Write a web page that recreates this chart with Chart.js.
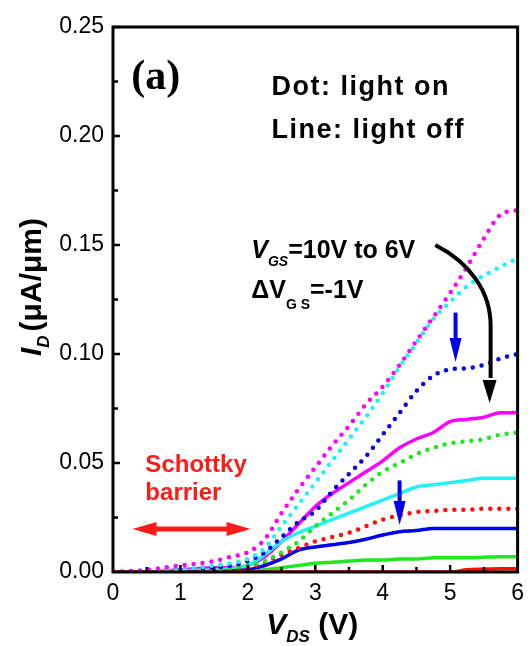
<!DOCTYPE html>
<html>
<head>
<meta charset="utf-8">
<script src="https://cdn.jsdelivr.net/npm/chart.js@4.4.0/dist/chart.umd.min.js"></script>
<style>
  body { margin: 0; background: #fff; }
  #wrap { width: 532px; height: 646px; position: relative; }
</style>
</head>
<body>
<div id="wrap"><canvas id="ivChart"></canvas></div>
<script>
// V_DS sweep (V)
const vds = [0, 0.5, 1, 1.5, 1.75, 2, 2.25, 2.5, 2.75, 3, 3.25, 3.5, 3.75, 4, 4.25, 4.5, 4.75, 5, 5.25, 5.5, 5.75, 6];

// light on (dotted), V_GS = 10V .. 6V
const onMagenta = [0, 0.001, 0.003, 0.005, 0.007, 0.009, 0.015, 0.027, 0.038, 0.048, 0.058, 0.067, 0.077, 0.085, 0.095, 0.106, 0.117, 0.128, 0.140, 0.153, 0.164, 0.166];
const onCyan    = [0, 0.0005, 0.001, 0.003, 0.004, 0.006, 0.011, 0.021, 0.031, 0.041, 0.051, 0.061, 0.071, 0.082, 0.094, 0.105, 0.116, 0.124, 0.131, 0.136, 0.140, 0.144];
const onBlue    = [0, 0.0005, 0.001, 0.002, 0.003, 0.005, 0.009, 0.016, 0.023, 0.028, 0.037, 0.045, 0.053, 0.063, 0.073, 0.083, 0.090, 0.093, 0.0935, 0.095, 0.098, 0.100];
const onGreen   = [0, 0, 0.0005, 0.001, 0.002, 0.003, 0.005, 0.009, 0.014, 0.021, 0.027, 0.033, 0.040, 0.046, 0.050, 0.054, 0.057, 0.059, 0.060, 0.061, 0.063, 0.064];
const onRed     = [0, 0, 0, 0.0005, 0.001, 0.002, 0.0045, 0.008, 0.011, 0.014, 0.016, 0.018, 0.021, 0.024, 0.026, 0.0275, 0.028, 0.0285, 0.0285, 0.029, 0.029, 0.029];

// light off (solid)
const offMagenta = [0, 0, 0.001, 0.002, 0.002, 0.003, 0.007, 0.014, 0.022, 0.030, 0.036, 0.041, 0.046, 0.051, 0.057, 0.061, 0.064, 0.069, 0.070, 0.071, 0.073, 0.073];
const offCyan    = [0, 0, 0.0005, 0.001, 0.0015, 0.003, 0.008, 0.014, 0.018, 0.021, 0.024, 0.027, 0.030, 0.033, 0.036, 0.039, 0.040, 0.041, 0.042, 0.043, 0.043, 0.043];
const offBlue    = [0, 0, 0, 0, 0.0005, 0.001, 0.003, 0.006, 0.010, 0.0115, 0.0125, 0.0135, 0.015, 0.017, 0.0185, 0.019, 0.020, 0.020, 0.020, 0.020, 0.020, 0.020];
const offGreen   = [0, 0, 0, 0, 0, 0, 0.001, 0.002, 0.003, 0.004, 0.0045, 0.005, 0.0055, 0.0055, 0.006, 0.006, 0.0065, 0.0065, 0.0065, 0.0068, 0.007, 0.007];
const offRed     = [0, 0, 0, 0, 0, 0, 0, 0, 0, 0, 0, 0, 0, 0, 0, 0, 0, 0, 0.001, 0.0013, 0.0015, 0.0015];

const xTicks = [0, 1, 2, 3, 4, 5, 6];
const yTicks = [0, 0.05, 0.10, 0.15, 0.20, 0.25];

const colors = { magenta: '#ff00ff', cyan: '#22f2f2', blue: '#0000ee', green: '#1ee81e', red: '#ff0d0d' };
const SANS = '"Liberation Sans", Arial, sans-serif';

const pts = arr => vds.map((v, i) => ({ x: v, y: arr[i] }));

function dotted(arr, c) {
    return {
        data: pts(arr), borderColor: c, backgroundColor: c,
        borderWidth: 4.5, borderDash: [0, 9], borderCapStyle: 'round',
        pointRadius: 0, cubicInterpolationMode: 'monotone'
    };
}
function solid(arr, c) {
    return {
        data: pts(arr), borderColor: c, backgroundColor: c,
        borderWidth: 3.5, pointRadius: 0, cubicInterpolationMode: 'monotone'
    };
}

// mixed-font text: runs of {t, f, dy}
function runs(ctx, x, y, list) {
    let cx = x;
    list.forEach(r => {
        ctx.font = r.f;
        ctx.fillText(r.t, cx, y + (r.dy || 0));
        cx += ctx.measureText(r.t).width + (r.gap || 0);
    });
    return cx - x;
}
function runsWidth(ctx, list) {
    let w = 0;
    list.forEach(r => { ctx.font = r.f; w += ctx.measureText(r.t).width + (r.gap || 0); });
    return w;
}

function arrowHead(ctx, tx, ty, ang, len, half) {
    ctx.beginPath();
    ctx.moveTo(tx, ty);
    ctx.lineTo(tx - len * Math.cos(ang) + half * Math.sin(ang), ty - len * Math.sin(ang) - half * Math.cos(ang));
    ctx.lineTo(tx - len * Math.cos(ang) - half * Math.sin(ang), ty - len * Math.sin(ang) + half * Math.cos(ang));
    ctx.closePath();
    ctx.fill();
}

const decorPlugin = {
    id: 'decor',
    afterDraw(chart) {
        const { ctx, chartArea: a, scales: { x, y } } = chart;
        const X = v => x.getPixelForValue(v), Y = v => y.getPixelForValue(v);
        ctx.save();

        // inward ticks
        ctx.strokeStyle = '#000';
        ctx.lineWidth = 2.5;
        for (let v = 0.025; v < 0.25; v += 0.025) {
            const major = Math.abs(v / 0.05 - Math.round(v / 0.05)) < 1e-6;
            ctx.beginPath(); ctx.moveTo(a.left, Y(v)); ctx.lineTo(a.left + (major ? 7 : 5), Y(v)); ctx.stroke();
        }
        for (let v = 0.5; v < 6; v += 0.5) {
            const major = Math.abs(v - Math.round(v)) < 1e-6;
            ctx.beginPath(); ctx.moveTo(X(v), a.bottom); ctx.lineTo(X(v), a.bottom - (major ? 7 : 5)); ctx.stroke();
        }
        // frame
        ctx.lineWidth = 3;
        ctx.strokeRect(a.left, a.top, a.right - a.left, a.bottom - a.top);

        ctx.fillStyle = '#000';
        ctx.textBaseline = 'alphabetic';
        ctx.textAlign = 'left';

        // axis titles
        const xt = [
            { t: 'V', f: 'italic bold 30px ' + SANS },
            { t: 'DS', f: 'italic bold 17px ' + SANS, dy: 8 },
            { t: ' (V)', f: 'bold 30px ' + SANS }
        ];
        const xw = runsWidth(ctx, xt);
        runs(ctx, (a.left + a.right) / 2 - xw / 2 - 3, 634, xt);

        const yt = [
            { t: 'I', f: 'italic bold 30px ' + SANS },
            { t: 'D', f: 'italic bold 17px ' + SANS, dy: 8, gap: 4 },
            { t: '(\u03bcA/\u03bcm)', f: 'bold 30px ' + SANS }
        ];
        const yw = runsWidth(ctx, yt);
        ctx.save();
        ctx.translate(41, 287);
        ctx.rotate(-Math.PI / 2);
        runs(ctx, -yw / 2, 0, yt);
        ctx.restore();

        // panel label and notes
        ctx.font = 'bold 42px "Liberation Serif", "Times New Roman", serif';
        ctx.fillText('(a)', X(0.27), Y(0.2215));
        ctx.letterSpacing = '1.5px';
        ctx.font = 'bold 27px ' + SANS;
        ctx.fillText('Dot: light on', X(2.35), Y(0.219));
        ctx.fillText('Line: light off', X(2.35), Y(0.199));
        ctx.letterSpacing = '0px';

        runs(ctx, X(2.05), Y(0.144), [
            { t: 'V', f: 'italic bold 25px ' + SANS },
            { t: 'GS', f: 'italic bold 14px ' + SANS, dy: 8 },
            { t: '=10V to 6V', f: 'bold 25px ' + SANS }
        ]);
        runs(ctx, X(2.05), Y(0.1255), [
            { t: '\u0394V', f: 'bold 25px ' + SANS },
            { t: 'G S', f: 'bold 14px ' + SANS, dy: 11 },
            { t: '=-1V', f: 'bold 25px ' + SANS }
        ]);

        // curved black arrow
        ctx.strokeStyle = '#000';
        ctx.lineWidth = 4;
        ctx.beginPath();
        ctx.moveTo(X(4.78), Y(0.150));
        ctx.bezierCurveTo(X(5.28), Y(0.142), X(5.60), Y(0.129), X(5.60), Y(0.113));
        ctx.lineTo(X(5.60), Y(0.089));
        ctx.stroke();
        arrowHead(ctx, X(5.585), Y(0.0775), Math.PI / 2, 23, 7);

        // blue arrows
        ctx.strokeStyle = ctx.fillStyle = '#0000ee';
        ctx.lineWidth = 4;
        [[5.08, 0.119, 0.0963], [4.25, 0.042, 0.0216]].forEach(([vx, y1, y2]) => {
            ctx.beginPath(); ctx.moveTo(X(vx), Y(y1)); ctx.lineTo(X(vx), Y(y2) - 18); ctx.stroke();
            arrowHead(ctx, X(vx), Y(y2), Math.PI / 2, 24, 6);
        });

        // Schottky barrier
        ctx.fillStyle = ctx.strokeStyle = '#ff1a1a';
        ctx.font = 'bold 24px ' + SANS;
        ctx.fillText('Schottky', X(0.48), Y(0.0459));
        ctx.fillText('barrier', X(0.48), Y(0.033));
        const ry = Y(0.0197);
        ctx.lineWidth = 5;
        ctx.beginPath(); ctx.moveTo(X(0.29) + 15, ry); ctx.lineTo(X(2.04) - 15, ry); ctx.stroke();
        arrowHead(ctx, X(0.29), ry, Math.PI, 24, 7);
        arrowHead(ctx, X(2.04), ry, 0, 24, 7);

        ctx.restore();
    }
};

new Chart(document.getElementById('ivChart'), {
    type: 'line',
    data: {
        datasets: [
            dotted(onMagenta, colors.magenta),
            dotted(onCyan, colors.cyan),
            dotted(onBlue, colors.blue),
            dotted(onGreen, colors.green),
            dotted(onRed, colors.red),
            solid(offRed, colors.red),
            solid(offGreen, colors.green),
            solid(offBlue, colors.blue),
            solid(offCyan, colors.cyan),
            solid(offMagenta, colors.magenta)
        ]
    },
    options: {
        responsive: true,
        maintainAspectRatio: false,
        animation: false,
        events: [],
        layout: { padding: { top: 27, right: 7, left: 0, bottom: 0 } },
        plugins: { legend: { display: false }, tooltip: { enabled: false } },
        scales: {
            x: {
                type: 'linear', min: 0, max: 6,
                afterFit: s => { s.height = 74; },
                afterBuildTicks: s => { s.ticks = xTicks.map(v => ({ value: v })); },
                grid: { display: false, drawTicks: false },
                border: { display: false },
                ticks: { color: '#000', padding: 8, font: { family: SANS, size: 23 } }
            },
            y: {
                type: 'linear', min: 0, max: 0.25,
                afterFit: s => { s.width = 113; },
                afterBuildTicks: s => { s.ticks = yTicks.map(v => ({ value: v })); },
                grid: { display: false, drawTicks: false },
                border: { display: false },
                ticks: { color: '#000', padding: 9, font: { family: SANS, size: 23 }, callback: v => v.toFixed(2) }
            }
        }
    },
    plugins: [decorPlugin]
});
</script>
</body>
</html>
